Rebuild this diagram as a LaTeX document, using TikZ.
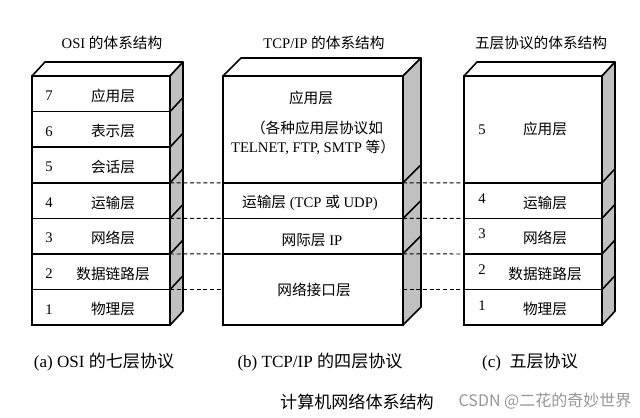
\documentclass[tikz,border=0pt]{standalone}
\usepackage{fontspec}
\setmainfont{Liberation Serif}
\newfontfamily\zhfont{Noto Sans CJK SC}
\newcommand{\zh}[1]{{\zhfont #1}}
\usepackage{tikz}
\usetikzlibrary{positioning, calc}
\newcommand{\pxu}{0.75pt}
\definecolor{cSide}{RGB}{192,192,192}
\definecolor{cMark}{RGB}{150,150,150}
\tikzset{
    layer/.style   ={rectangle, draw=black, line width=1.2pt, fill=white, outer sep=0pt, inner sep=0pt},
    sideface/.style={draw=black, line width=1.2pt, fill=cSide, line join=round},
    topface/.style ={draw=black, line width=1.2pt, fill=white, line join=round},
    lbl/.style     ={font=\fontsize{11}{13}\selectfont, inner sep=0pt},
    captext/.style ={font=\fontsize{12.8}{15}\selectfont, inner sep=0pt},
    wmark/.style   ={font=\zhfont\fontsize{12}{14}\selectfont, text=cMark, inner sep=0pt},
    linkline/.style={densely dashed, line width=0.7pt},
}

\begin{document}
\begin{tikzpicture}[x=0.75pt, y=-0.75pt]
        \useasboundingbox (0,0) rectangle (640,418);
        % OSI stack
        \foreach \i/\name in {7/应用层, 6/表示层, 5/会话层, 4/运输层, 3/网络层, 2/数据链路层, 1/物理层} {
            \node[layer, minimum width=138*\pxu, minimum height=35.6*\pxu] (o\i) at (101,{76+(7.5-\i)*35.6}) {};
            \node[lbl] (o\i-n) at ([xshift=17*\pxu, yshift=-2*\pxu]o\i.west) {\i};
            \node[lbl] (o\i-t) at ([xshift=12*\pxu, yshift=-2*\pxu]o\i.center) {\zh{\name}};
        }
        \draw[topface] (o7.north west) -- ++(13,-14) -- ($(o7.north east)+(13,-14)$) -- (o7.north east) -- cycle;
        \draw[sideface] (o7.north east) -- ++(13,-14) -- ($(o1.south east)+(13,-14)$) -- (o1.south east) -- cycle;
        \foreach \i in {6,...,1} \draw[sideface] (o\i.north east) -- ++(13,-14);

        % TCP/IP stack
        \node[layer, minimum width=180*\pxu, minimum height=106.8*\pxu] (t4) at (313,129.4) {};
        \node[layer, minimum width=180*\pxu, minimum height=35.6*\pxu]  (t3) at (313,200.6) {};
        \node[layer, minimum width=180*\pxu, minimum height=35.6*\pxu]  (t2) at (313,236.2) {};
        \node[layer, minimum width=180*\pxu, minimum height=71.2*\pxu]  (t1) at (313,289.4) {};
        \node[lbl] (t4-t) at (311,98)  {\zh{应用层}};
        \node[lbl] (t4-a) at (317,128) {\zh{（各种应用层协议如}};
        \node[lbl] (t4-b) at (313,147) {TELNET, FTP, SMTP \zh{等）}};
        \node[lbl] (t3-t) at (310,203) {\zh{运输层} (TCP \zh{或} UDP)};
        \node[lbl] (t2-t) at (312,240) {\zh{网际层} IP};
        \node[lbl] (t1-t) at (314,290) {\zh{网络接口层}};
        \draw[topface] (t4.north west) -- ++(18,-18) -- ($(t4.north east)+(18,-18)$) -- (t4.north east) -- cycle;
        \draw[sideface] (t4.north east) -- ++(18,-18) -- ($(t1.south east)+(18,-18)$) -- (t1.south east) -- cycle;
        \foreach \i in {3,2,1} \draw[sideface] (t\i.north east) -- ++(18,-18);

        % five-layer stack
        \node[layer, minimum width=138*\pxu, minimum height=106.8*\pxu] (f5) at (533,129.4) {};
        \node[lbl] (f5-n) at ([xshift=18*\pxu]f5.west) {5};
        \node[lbl] (f5-t) at ([xshift=12*\pxu]f5.center) {\zh{应用层}};
        \foreach \i/\name in {4/运输层, 3/网络层, 2/数据链路层, 1/物理层} {
            \node[layer, minimum width=138*\pxu, minimum height=35.6*\pxu] (f\i) at (533,{76+(7.5-\i)*35.6}) {};
            \node[lbl] (f\i-n) at ([xshift=18*\pxu, yshift=2*\pxu]f\i.west) {\i};
            \node[lbl] (f\i-t) at ([xshift=12*\pxu, yshift=-2*\pxu]f\i.center) {\zh{\name}};
        }
        \draw[topface] (f5.north west) -- ++(13,-14) -- ($(f5.north east)+(13,-14)$) -- (f5.north east) -- cycle;
        \draw[sideface] (f5.north east) -- ++(13,-14) -- ($(f1.south east)+(13,-14)$) -- (f1.south east) -- cycle;
        \foreach \i in {4,...,1} \draw[sideface] (f\i.north east) -- ++(13,-14);

        % dashed correspondences
        \draw[linkline] (o4.north east) -- (t3.north west);
        \draw[linkline] (o3.north east) -- (t2.north west);
        \draw[linkline] (o2.north east) -- (t1.north west);
        \draw[linkline] (o1.north east) -- (o1.north east -| t1.west);
        \draw[linkline] (t3.north east) -- (f4.north west);
        \draw[linkline] (t2.north east) -- (f3.north west);
        \draw[linkline] (t1.north east) -- (f2.north west);
        \draw[linkline] (f1.north west -| t1.east) -- (f1.north west);

        % titles and captions
        \node[lbl] (ttl-o) at (112,43) {OSI \zh{的体系结构}};
        \node[lbl] (ttl-t) at (324,43) {TCP/IP \zh{的体系结构}};
        \node[lbl] (ttl-f) at (541,43) {\zh{五层协议的体系结构}};
        \node[captext] (cap-a) at (104,362) {(a) OSI \zh{的七层协议}};
        \node[captext] (cap-b) at (320,362) {(b) TCP/IP \zh{的四层协议}};
        \node[captext] (cap-c) at (530,362) {(c)\enspace\zh{五层协议}};
        \node[captext] (cap-m) at (357,402) {\zh{计算机网络体系结构}};
        \node[wmark]   (mark)  at (545,401) {CSDN @二花的奇妙世界};
    \end{tikzpicture}
\end{document}
